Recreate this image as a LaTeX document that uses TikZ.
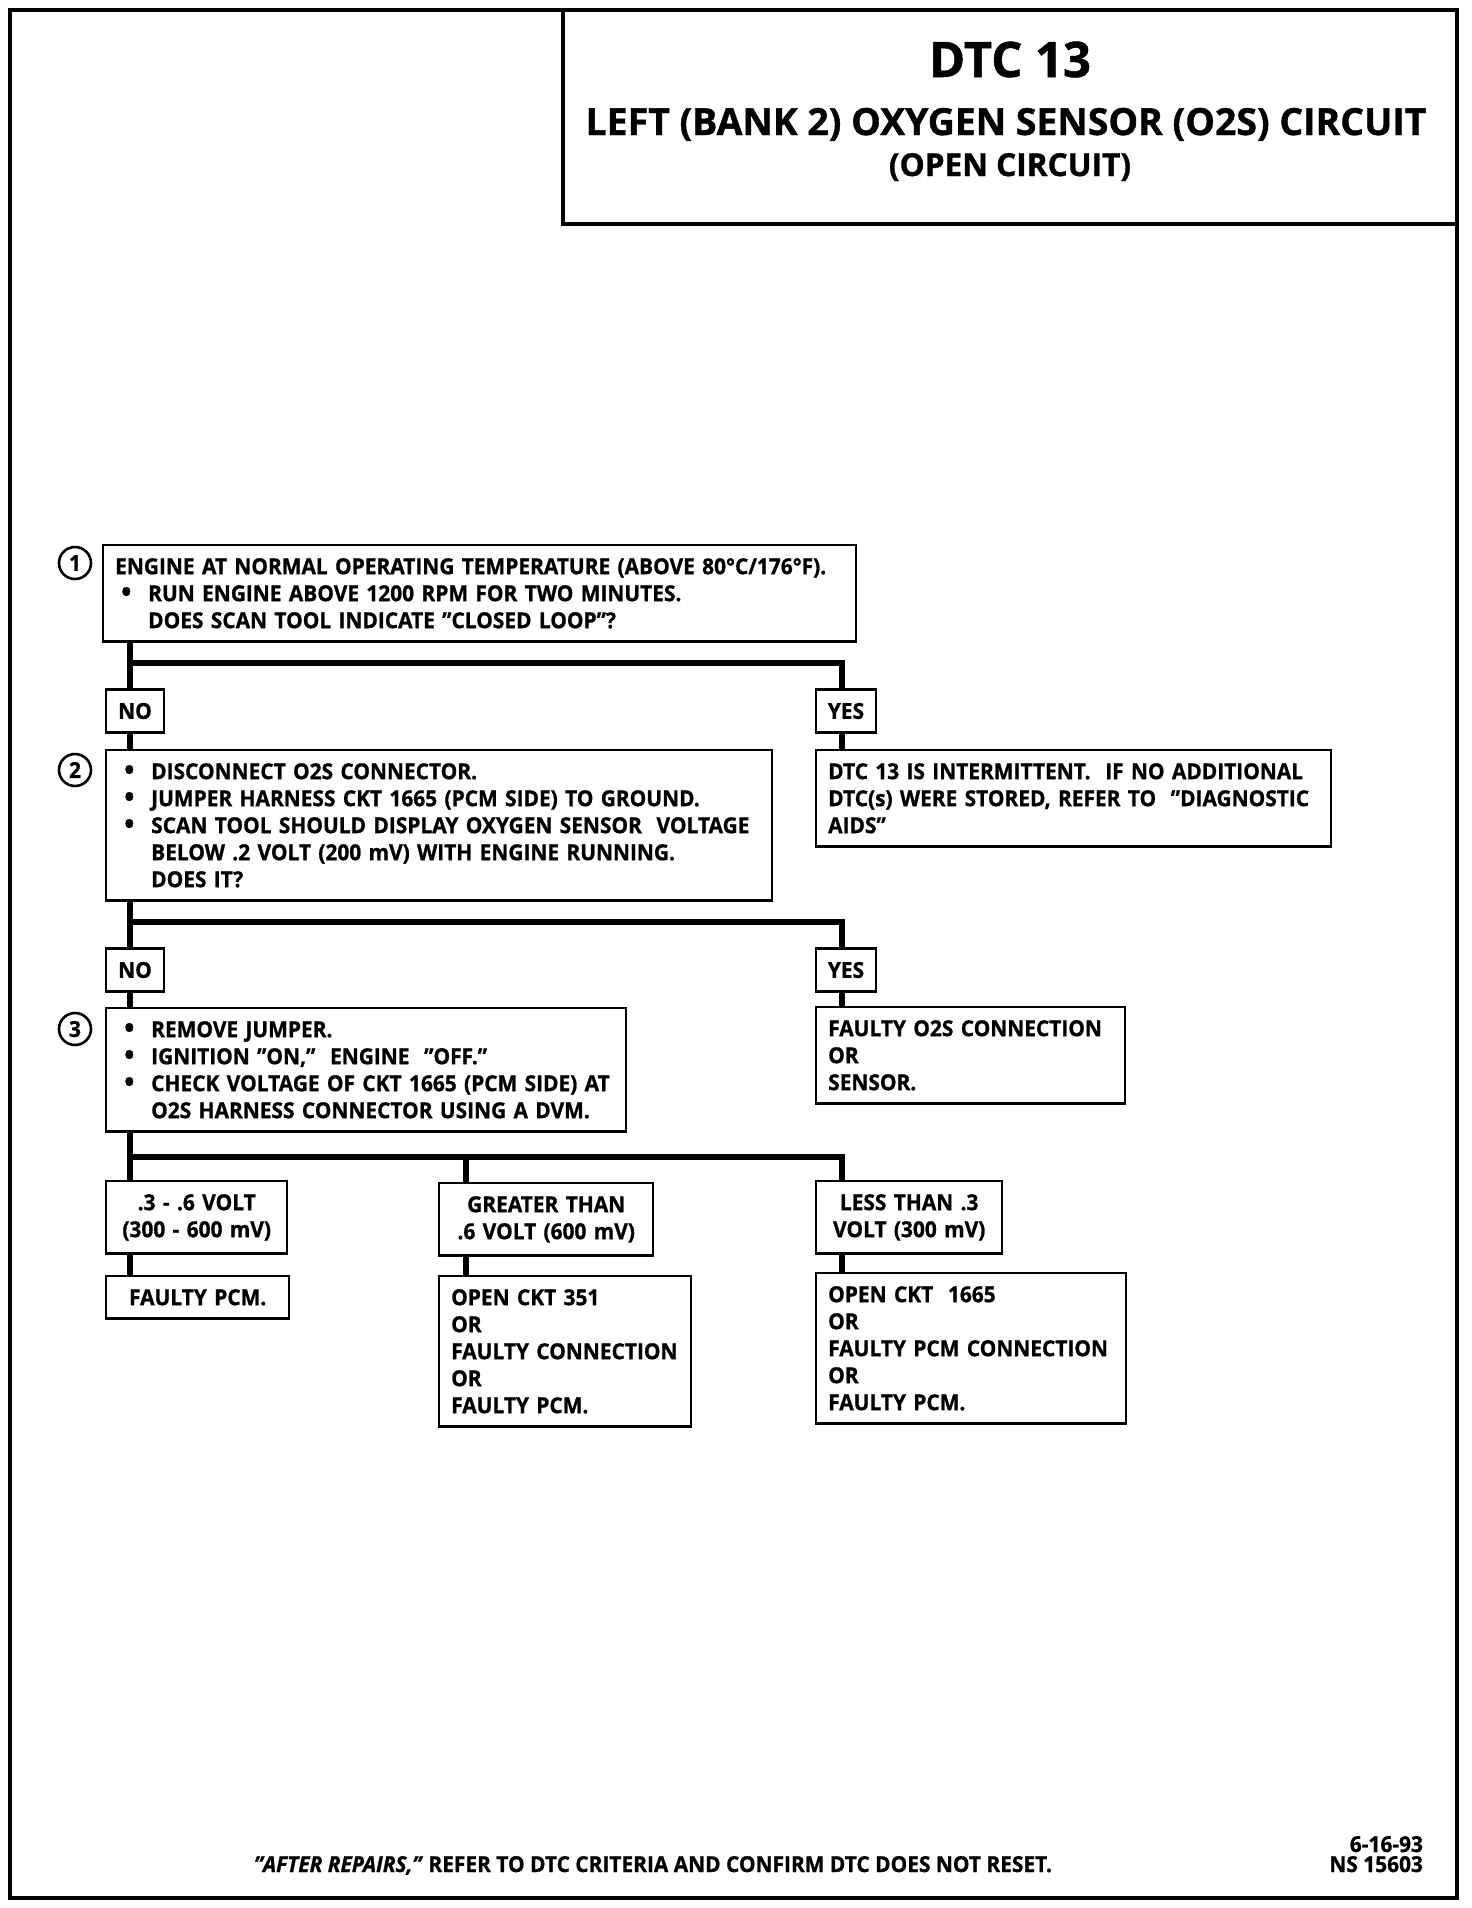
\documentclass[tikz,border=0pt]{standalone}
\usepackage{fontspec}
\setmainfont{Open Sans}[FakeStretch=0.95,FakeBold=1]
\newfontfamily\titlefont{Open Sans}[FakeBold=1]
\newcommand{\bodyfont}{\fontsize{11}{13.5}\selectfont}
\newcommand{\bul}{\hspace*{3pt}\makebox[13.5pt][l]{\smash{\raisebox{-0.4pt}{\scalebox{1.3}{•}}}}}
\newcommand{\ind}{\hspace*{16.5pt}}
\begin{document}
\begin{tikzpicture}[x=0.5pt,y=-0.5pt,
	frame/.style={line width=1.8pt},
	wire/.style={line width=2.6pt},
	stepbox/.style={draw,line width=1.2pt,inner xsep=6pt,inner ysep=6.5pt,anchor=north west,align=left,font=\bfseries\bodyfont},
	endbox/.style={stepbox,align=center},
	answer/.style={draw,line width=1.2pt,inner xsep=6pt,minimum height=21.5pt,font=\bfseries\bodyfont},
	stepnum/.style={circle,draw,line width=1.3pt,minimum size=16pt,inner sep=0pt,font=\bfseries\bodyfont}]
	\useasboundingbox (0,0) rectangle (1472,1908);
	% frame and title block
	\draw [frame] (10,10) rectangle (1457,1898);
	\draw [frame] (563,10) rectangle (1457,224);
	\node [anchor=base,font=\titlefont\bfseries\fontsize{24.5}{28}\selectfont] (title) at (1010,77) {DTC 13};
	\node [anchor=base,font=\titlefont\bfseries\fontsize{18.7}{21}\selectfont] (subtitle) at (1006,135) {LEFT (BANK 2) OXYGEN SENSOR (O2S) CIRCUIT};
	\node [anchor=base,font=\titlefont\bfseries\fontsize{15.8}{18}\selectfont] (subsub) at (1010,176) {(OPEN CIRCUIT)};
	% step 1
	\node [stepnum] (n1) at (75,563) {1};
	\node [stepbox,text width=364.5pt] (q1) at (102,544) {ENGINE AT NORMAL OPERATING TEMPERATURE (ABOVE 80°C/176°F).\\
		\bul RUN ENGINE ABOVE 1200 RPM FOR TWO MINUTES.\\
		\ind DOES SCAN TOOL INDICATE "CLOSED LOOP"?};
	\node [answer] (no1) at (135,711) {NO};
	\node [answer] (yes1) at (846,711) {YES};
	% step 2
	\node [stepnum] (n2) at (75,770) {2};
	\node [stepbox,text width=321pt] (q2) at (105,749) {\bul DISCONNECT O2S CONNECTOR.\\
		\bul JUMPER HARNESS CKT 1665 (PCM SIDE) TO GROUND.\\
		\bul SCAN TOOL SHOULD DISPLAY OXYGEN SENSOR\ \ VOLTAGE\\
		\ind BELOW .2 VOLT (200 mV) WITH ENGINE RUNNING.\\
		\ind DOES IT?};
	\node [stepbox,text width=245.5pt] (r1) at (815,749) {DTC 13 IS INTERMITTENT.\ \ IF NO ADDITIONAL\\
		DTC(s) WERE STORED, REFER TO\ \ "DIAGNOSTIC\\
		AIDS"};
	\node [answer] (no2) at (135,970) {NO};
	\node [answer] (yes2) at (846,970) {YES};
	% step 3
	\node [stepnum] (n3) at (75,1029) {3};
	\node [stepbox,text width=248pt] (q3) at (105,1007) {\bul REMOVE JUMPER.\\
		\bul IGNITION "ON,"\ \ ENGINE\ \ "OFF."\\
		\bul CHECK VOLTAGE OF CKT 1665 (PCM SIDE) AT\\
		\ind O2S HARNESS CONNECTOR USING A DVM.};
	\node [stepbox,text width=142.5pt] (r2) at (815,1006) {FAULTY O2S CONNECTION\\ OR\\ SENSOR.};
	% voltage results
	\node [endbox,text width=78.5pt] (a1) at (105,1180) {.3 - .6 VOLT\\ (300 - 600 mV)};
	\node [endbox,text width=79.5pt] (a2) at (105,1275) {FAULTY PCM.};
	\node [endbox,text width=95pt] (b1) at (438,1182) {GREATER THAN\\ .6 VOLT (600 mV)};
	\node [stepbox,text width=114pt] (b2) at (438,1275) {OPEN CKT 351\\ OR\\ FAULTY CONNECTION\\ OR\\ FAULTY PCM.};
	\node [endbox,text width=81pt] (c1) at (815,1180) {LESS THAN .3\\ VOLT (300 mV)};
	\node [stepbox,text width=143pt] (c2) at (815,1272) {OPEN CKT\ \ 1665\\ OR\\ FAULTY PCM CONNECTION\\ OR\\ FAULTY PCM.};
	% branch lines
	\coordinate (j1) at (130,663);
	\coordinate (k1) at (842,663);
	\coordinate (j2) at (130,922);
	\coordinate (k2) at (842,922);
	\coordinate (j3) at (130,1157);
	\coordinate (m3) at (466,1157);
	\coordinate (k3) at (842,1157);
	\draw [wire] (q1.south -| j1) -- (j1) -- (k1) -- (yes1.north -| k1);
	\draw [wire] (j1) -- (no1.north -| j1);
	\draw [wire] (no1.south -| j1) -- (q2.north -| j1);
	\draw [wire] (yes1.south -| k1) -- (r1.north -| k1);
	\draw [wire] (q2.south -| j2) -- (j2) -- (k2) -- (yes2.north -| k2);
	\draw [wire] (j2) -- (no2.north -| j2);
	\draw [wire] (no2.south -| j2) -- (q3.north -| j2);
	\draw [wire] (yes2.south -| k2) -- (r2.north -| k2);
	\draw [wire] (q3.south -| j3) -- (j3) -- (k3) -- (c1.north -| k3);
	\draw [wire] (j3) -- (a1.north -| j3);
	\draw [wire] (m3) -- (b1.north -| m3);
	\draw [wire] (a1.south -| j3) -- (a2.north -| j3);
	\draw [wire] (b1.south -| m3) -- (b2.north -| m3);
	\draw [wire] (c1.south -| k3) -- (c2.north -| k3);
	% footer
	\node [anchor=base,font=\bfseries\bodyfont] (note) at (653,1872) {\textit{"AFTER REPAIRS,"} REFER TO DTC CRITERIA AND CONFIRM DTC DOES NOT RESET.};
	\node [anchor=base east,align=right,font=\bfseries\fontsize{11}{10}\selectfont] (ref) at (1430,1872) {6-16-93\\ NS 15603};
\end{tikzpicture}
\end{document}
